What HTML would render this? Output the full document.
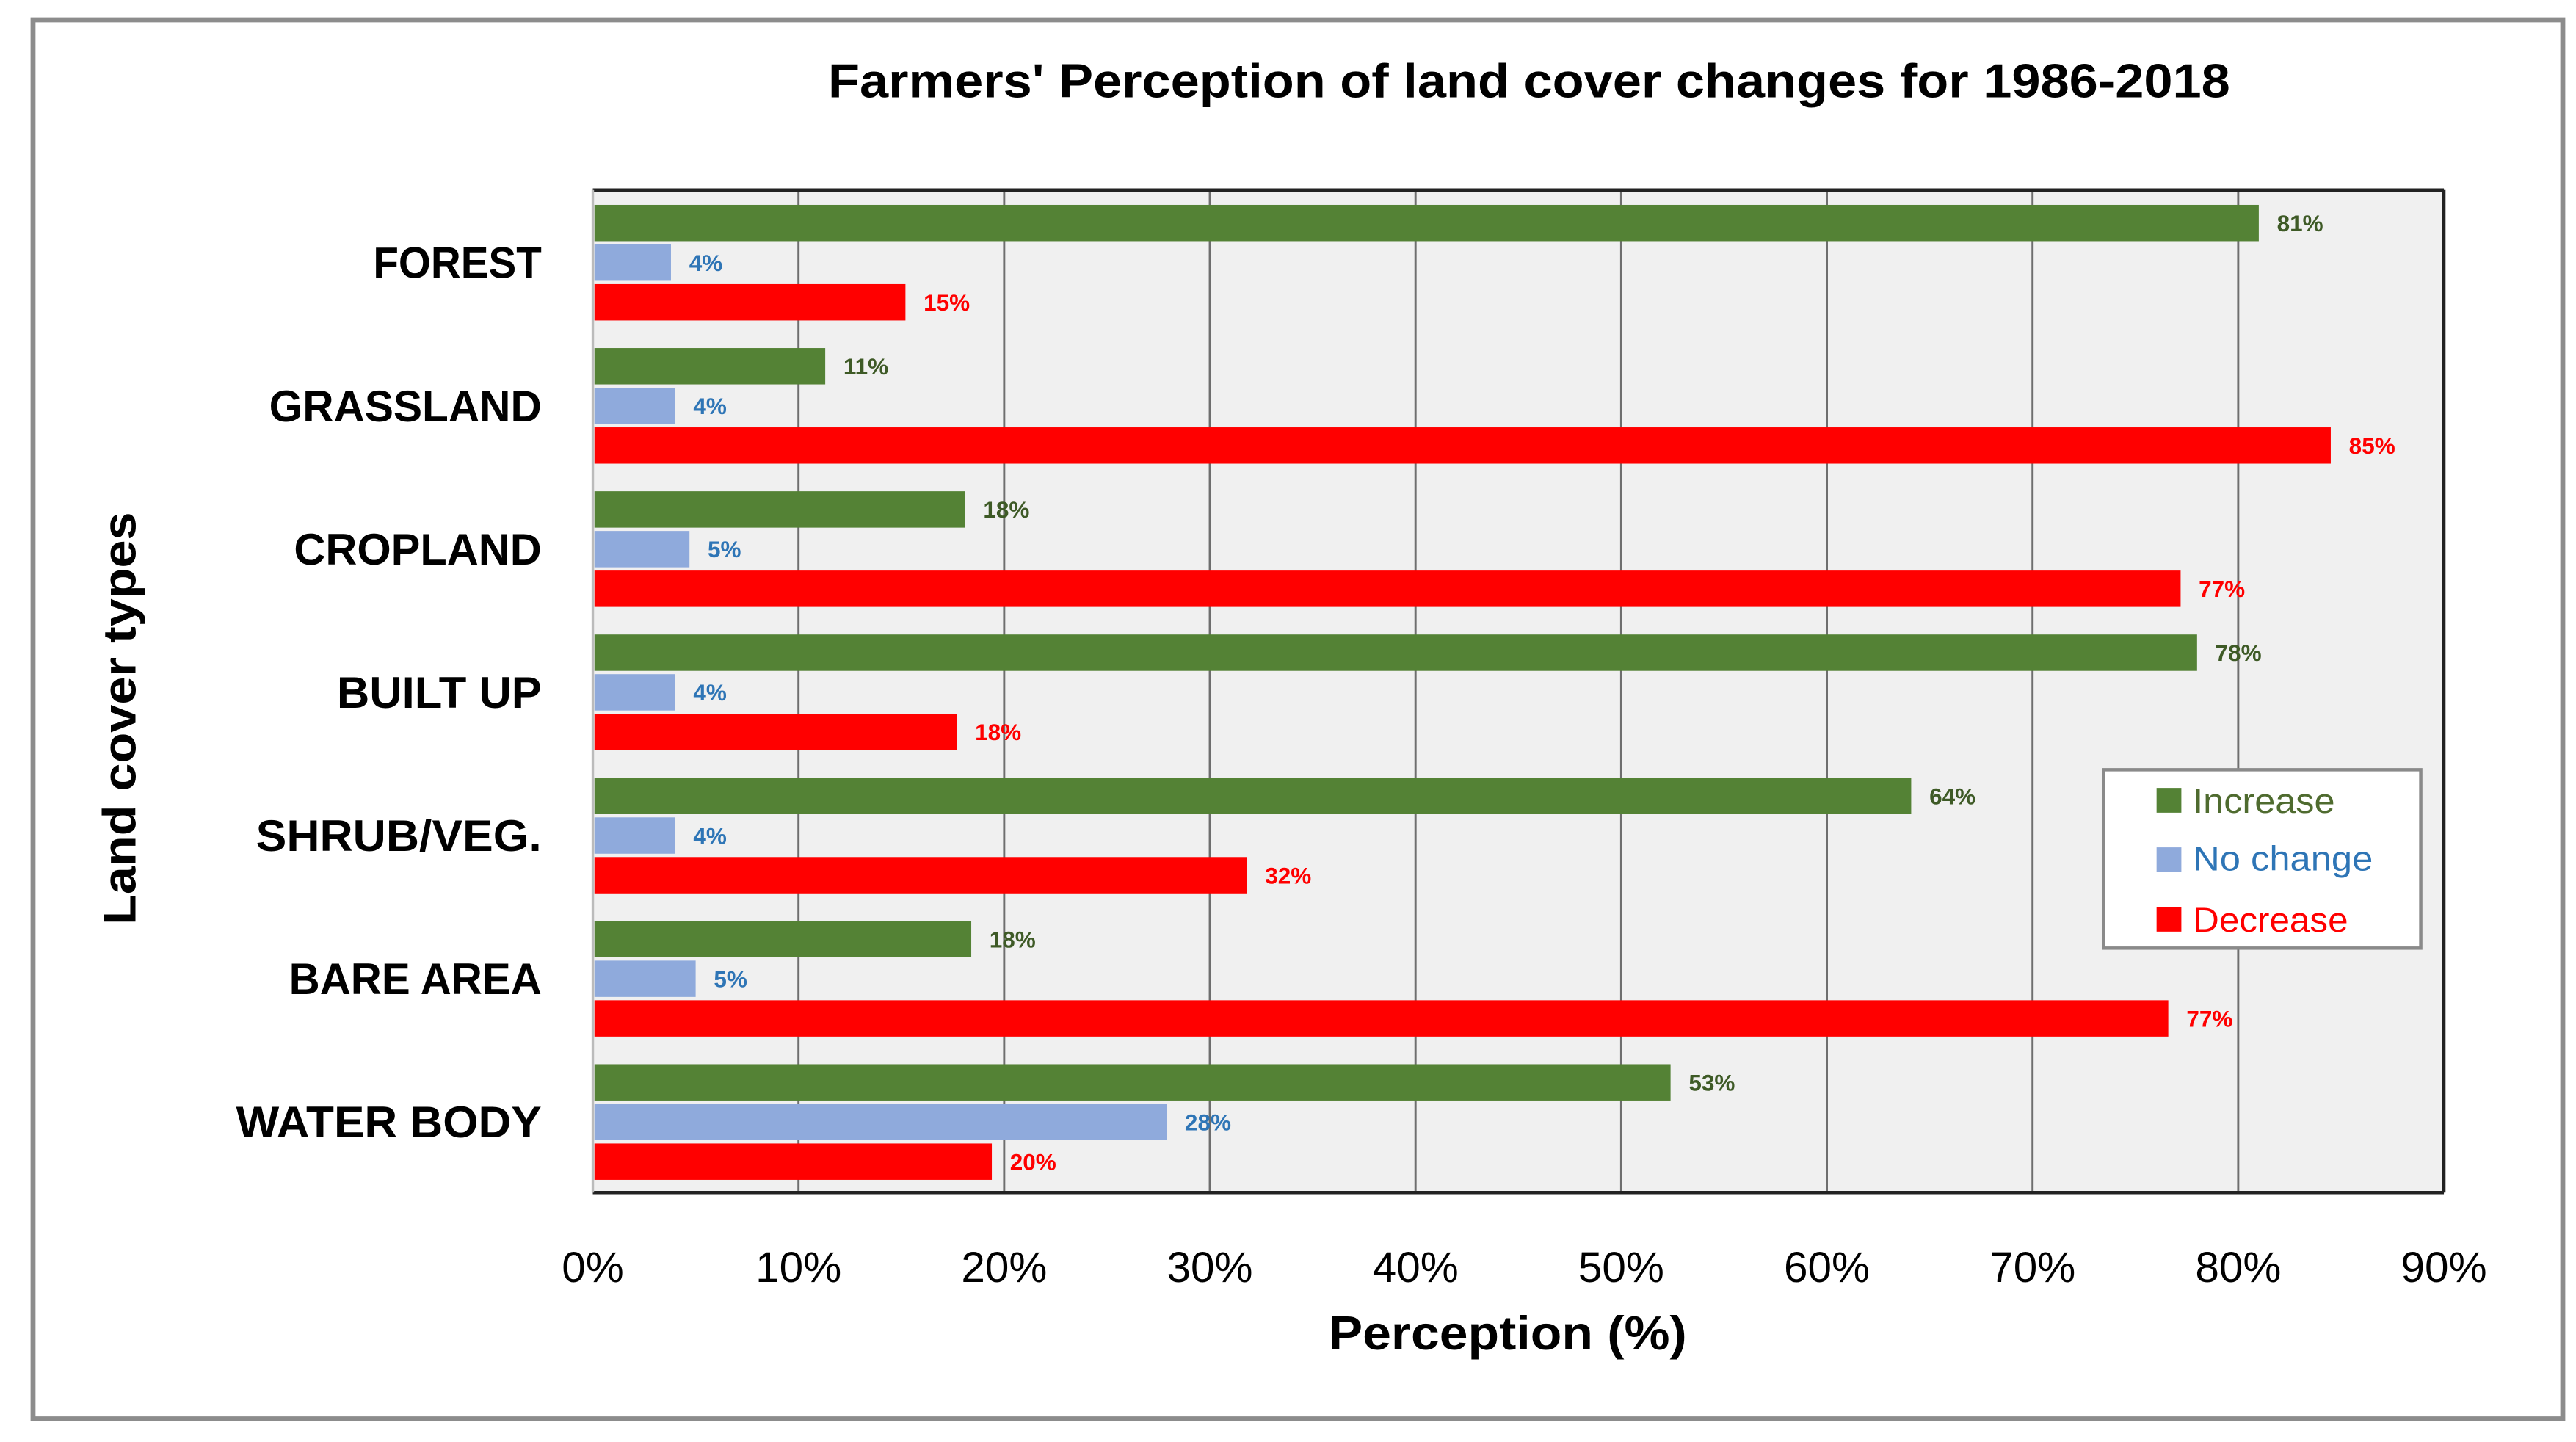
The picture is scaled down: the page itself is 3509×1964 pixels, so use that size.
<!DOCTYPE html>
<html><head><meta charset="utf-8"><style>
html,body{margin:0;padding:0;background:#fff;width:3509px;height:1964px;overflow:hidden}
svg{display:block}
text{font-family:"Liberation Sans",sans-serif}
</style></head><body>
<svg id="chart" width="3509" height="1964" viewBox="0 0 1560 873" preserveAspectRatio="none" xmlns="http://www.w3.org/2000/svg">
<rect x="20" y="12" width="1532" height="847" fill="#fff" stroke="#8c8c8c" stroke-width="3"/>
<text x="926" y="59" text-anchor="middle" font-size="29" font-weight="bold" textLength="849" lengthAdjust="spacingAndGlyphs">Farmers' Perception of land cover changes for 1986-2018</text>
<rect x="359" y="115" width="1121" height="607" fill="#f0f0f0"/>
<g id="grid"></g>
<g id="bars"></g>
<line x1="359" y1="115" x2="1480" y2="115" stroke="#222" stroke-width="2"/>
<line x1="359" y1="722" x2="1480" y2="722" stroke="#222" stroke-width="2"/>
<line x1="1480" y1="115" x2="1480" y2="722" stroke="#222" stroke-width="2"/>
<line x1="359" y1="115" x2="359" y2="722" stroke="#bbb" stroke-width="1.5"/>
<g id="cats"></g>
<g id="ticks"></g>
<text x="913" y="817" text-anchor="middle" font-size="29" font-weight="bold" textLength="217" lengthAdjust="spacingAndGlyphs">Perception (%)</text>
<text transform="translate(82,435) rotate(-90)" text-anchor="middle" font-size="28" font-weight="bold" textLength="250" lengthAdjust="spacingAndGlyphs">Land cover types</text>
<g>
<rect x="1274" y="466" width="192" height="108" fill="#fff" stroke="#8a8a8a" stroke-width="2"/>
<g><rect x="1306" y="477" width="15" height="15" fill="#548235"/><text x="1328" y="492" font-size="21" fill="#4f6b2f" textLength="86" lengthAdjust="spacingAndGlyphs">Increase</text></g>
<g><rect x="1306" y="513" width="15" height="15" fill="#8faadc"/><text x="1328" y="527" font-size="21" fill="#2e75b6" textLength="109" lengthAdjust="spacingAndGlyphs">No change</text></g>
<g><rect x="1306" y="549" width="15" height="15" fill="#ff0000"/><text x="1328" y="564" font-size="21" fill="#ff0000" textLength="94" lengthAdjust="spacingAndGlyphs">Decrease</text></g>
</g>
</svg>
<script>
const categories = ["FOREST","GRASSLAND","CROPLAND","BUILT UP","SHRUB/VEG.","BARE AREA","WATER BODY"];
const catWidths = [102,165,150,124,173,153,185];
const increaseVals = [81,11.3,18.1,78,64.1,18.4,52.4];
const noChangeVals = [3.8,4,4.7,4,4,5,27.9];
const decreaseVals = [15.2,84.5,77.2,17.7,31.8,76.6,19.4];
const increaseLabels = ["81%","11%","18%","78%","64%","18%","53%"];
const noChangeLabels = ["4%","4%","5%","4%","4%","5%","28%"];
const decreaseLabels = ["15%","85%","77%","18%","32%","77%","20%"];
const tickVals = [0,10,20,30,40,50,60,70,80,90];
const tickLabels = ["0%","10%","20%","30%","40%","50%","60%","70%","80%","90%"];

const NS="http://www.w3.org/2000/svg";
const X0=359,X1=1480,XMAX=90,Y0=115,Y1=722;
const xs=v=>X0+(v/XMAX)*(X1-X0);
const band=(Y1-Y0)/categories.length;
const ys=i=>Y0+i*band;
function mk(tag,attrs,parent){const e=document.createElementNS(NS,tag);for(const k in attrs)e.setAttribute(k,attrs[k]);parent.appendChild(e);return e;}
const grid=document.getElementById('grid'),bars=document.getElementById('bars'),cats=document.getElementById('cats'),ticks=document.getElementById('ticks');
tickVals.forEach((v,i)=>{
  if(v>0&&v<XMAX){const l=mk('line',{x1:xs(v),x2:xs(v),y1:Y0,y2:Y1,stroke:'#6e6e6e','stroke-width':1.3},grid);
  
  }
  const t=mk('text',{x:xs(v),y:776,'text-anchor':'middle','font-size':26},ticks);
  
  
  t.textContent=tickLabels[i];
});
const series=[
 {vals:increaseVals,labels:increaseLabels,fill:'#548235',lc:'#3e5a26',name:'increase',off:9},
 {vals:noChangeVals,labels:noChangeLabels,fill:'#8faadc',lc:'#2e75b6',name:'no-change',off:33},
 {vals:decreaseVals,labels:decreaseLabels,fill:'#ff0000',lc:'#ff0000',name:'decrease',off:57}
];
categories.forEach((c,i)=>{
  const t=mk('text',{x:328,y:ys(i)+band/2+10,'text-anchor':'end','font-size':27,'font-weight':'bold',textLength:catWidths[i],lengthAdjust:'spacingAndGlyphs'},cats);
  
  
  t.textContent=c;
  series.forEach(s=>{
    const y=ys(i)+s.off;
    const r=mk('rect',{x:X0+1,y:y,width:xs(s.vals[i])-X0-1,height:22,fill:s.fill},bars);
    
    
    const lt=mk('text',{x:xs(s.vals[i])+11,y:y+16,'font-size':14,'font-weight':'bold',fill:s.lc},bars);
    
    
    lt.textContent=s.labels[i];
  });
});
</script>
</body></html>
